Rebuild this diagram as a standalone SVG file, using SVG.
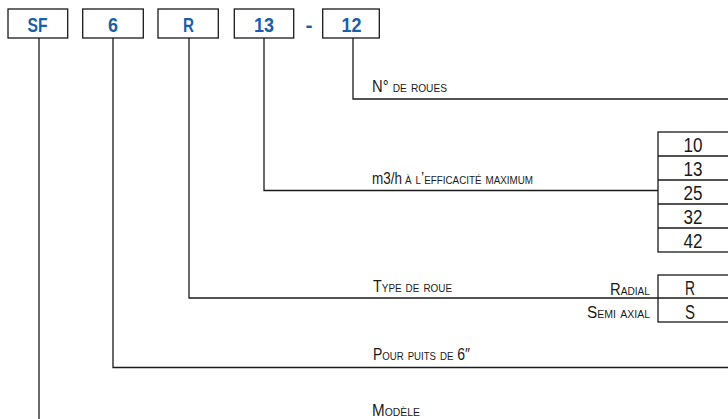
<svg xmlns="http://www.w3.org/2000/svg" width="728" height="419" viewBox="0 0 728 419">
<style>
.box{fill:#fff;stroke:#1a1a1a;stroke-width:1.3}
.code{font-family:"Liberation Sans",Arial,sans-serif;font-weight:bold;font-size:21px;fill:#1b5fa8;text-anchor:middle}
.lbl{font-family:"Liberation Sans",Arial,sans-serif;font-size:16px;fill:#1a1a1a;font-variant:small-caps}
.num{font-family:"Liberation Sans",Arial,sans-serif;font-size:20px;fill:#1a1a1a;text-anchor:middle}
.ln{fill:none;stroke:#1a1a1a;stroke-width:1.3}
</style>
<rect width="728" height="419" fill="#fff"/>
<g id="connectors">
<path class="ln" d="M39 38V419"/>
<path class="ln" d="M113 38V367.5H729"/>
<path class="ln" d="M189 38V298H658"/>
<path class="ln" d="M264 38V190.5H658"/>
<path class="ln" d="M353 38V99H729"/>
</g>
<g id="code-SF"><rect class="box" x="8" y="9" width="59.7" height="29"/><text class="code" x="37.5" y="32.3" textLength="20" lengthAdjust="spacingAndGlyphs">SF</text></g>
<g id="code-6"><rect class="box" x="82.7" y="9" width="60.6" height="29"/><text class="code" x="113" y="32.3" textLength="10" lengthAdjust="spacingAndGlyphs">6</text></g>
<g id="code-R"><rect class="box" x="158" y="9" width="60.3" height="29"/><text class="code" x="188.5" y="32.3" textLength="11" lengthAdjust="spacingAndGlyphs">R</text></g>
<g id="code-13"><rect class="box" x="234.3" y="9" width="59.4" height="29"/><text class="code" x="264" y="32.3" textLength="20" lengthAdjust="spacingAndGlyphs">13</text></g>
<g id="dash"><text class="code" x="309" y="32.3">-</text></g>
<g id="code-12"><rect class="box" x="322.7" y="9" width="56.6" height="29"/><text class="code" x="351.5" y="32.3" textLength="20" lengthAdjust="spacingAndGlyphs">12</text></g>
<g id="label-roues"><text class="lbl" x="372" y="92" font-size="17" textLength="75" lengthAdjust="spacingAndGlyphs">N° de roues</text></g>
<g id="label-debit"><text class="lbl" x="372" y="184" font-size="17"><tspan font-variant="normal" textLength="30" lengthAdjust="spacingAndGlyphs">m3/h</tspan><tspan x="405" textLength="128" lengthAdjust="spacingAndGlyphs">à l’efficacité maximum</tspan></text></g>
<g id="table-debit">
<rect class="box" x="658" y="132" width="80" height="120"/>
<path class="ln" d="M658 156H729M658 180H729M658 204H729M658 228H729"/>
<text class="num" x="693" y="152" textLength="19" lengthAdjust="spacingAndGlyphs">10</text>
<text class="num" x="693" y="176" textLength="19" lengthAdjust="spacingAndGlyphs">13</text>
<text class="num" x="693" y="200" textLength="19" lengthAdjust="spacingAndGlyphs">25</text>
<text class="num" x="693" y="224" textLength="19" lengthAdjust="spacingAndGlyphs">32</text>
<text class="num" x="693" y="248" textLength="19" lengthAdjust="spacingAndGlyphs">42</text>
</g>
<g id="label-type"><text class="lbl" x="373" y="292" textLength="79" lengthAdjust="spacingAndGlyphs">Type de roue</text></g>
<g id="table-type">
<rect class="box" x="658" y="275" width="80" height="47"/>
<path class="ln" d="M658 298H729"/>
<text class="lbl" x="650" y="295" text-anchor="end" textLength="40" lengthAdjust="spacingAndGlyphs">Radial</text>
<text class="lbl" x="650" y="318" text-anchor="end" textLength="63" lengthAdjust="spacingAndGlyphs">Semi axial</text>
<text class="num" x="690" y="294.5" font-size="19" textLength="10" lengthAdjust="spacingAndGlyphs">R</text>
<text class="num" x="690" y="318.5" font-size="19" textLength="10" lengthAdjust="spacingAndGlyphs">S</text>
</g>
<g id="label-puits"><text class="lbl" x="373" y="360" textLength="97" lengthAdjust="spacingAndGlyphs">Pour puits de 6″</text></g>
<g id="label-modele"><text class="lbl" x="372" y="416" textLength="48" lengthAdjust="spacingAndGlyphs">Modèle</text></g>
</svg>
